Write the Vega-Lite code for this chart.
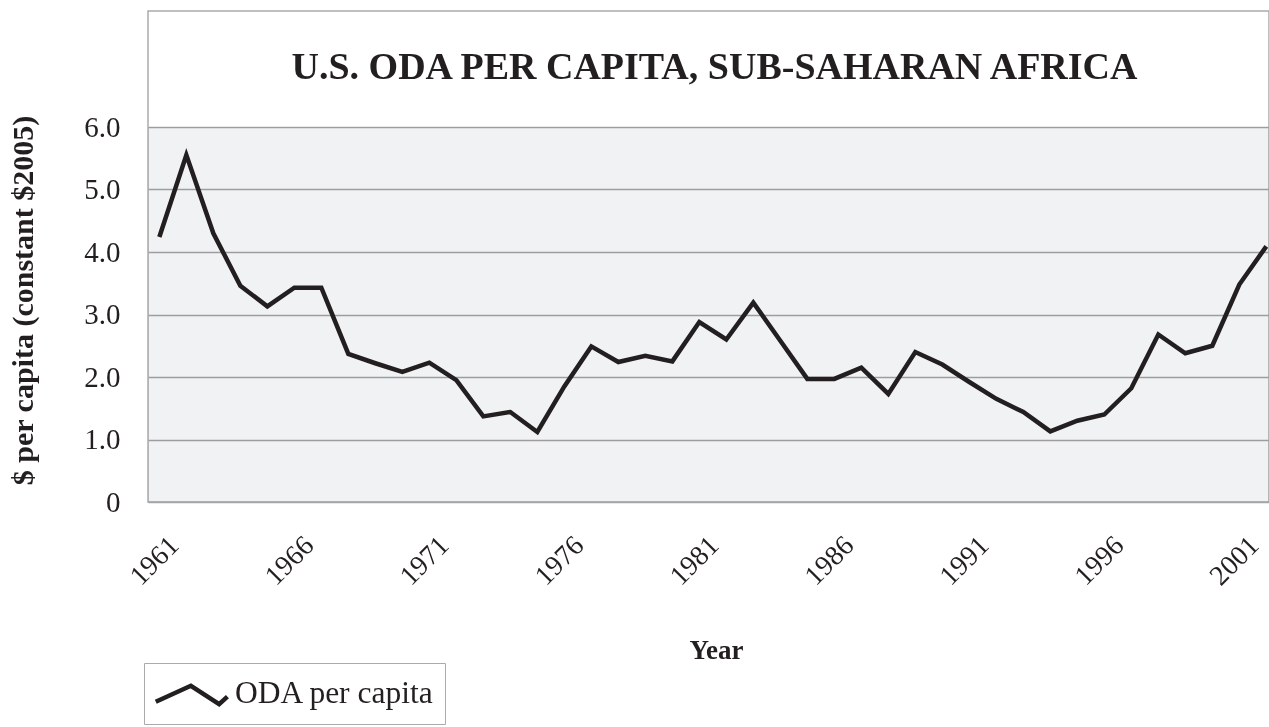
{
  "$schema": "https://vega.github.io/schema/vega-lite/v6.json",
  "width": 1121,
  "height": 491,
  "autosize": {"type": "none"},
  "padding": {"left": 148, "top": 11, "right": 0, "bottom": 225},
  "background": "white",
  "config": {
    "view": {"stroke": "#ababab", "strokeWidth": 1.5},
    "font": "Liberation Serif",
    "axisY": {
      "grid": true,
      "gridColor": "#a6a6a6",
      "gridWidth": 1.3,
      "domain": false,
      "ticks": false,
      "labelPadding": 28,
      "labelFont": "Liberation Serif",
      "labelFontSize": 29,
      "labelColor": "#231f20",
      "titleFont": "Liberation Serif",
      "titleFontSize": 30,
      "titleFontWeight": "bold",
      "titleColor": "#231f20",
      "titleAngle": -90,
      "titleAlign": "center",
      "titleBaseline": "middle",
      "titleX": -125,
      "titleY": 289
    }
  },
  "title": {
    "text": "U.S. ODA PER CAPITA, SUB-SAHARAN AFRICA",
    "font": "Liberation Serif",
    "fontSize": 38,
    "fontWeight": "bold",
    "color": "#231f20",
    "anchor": "middle",
    "frame": "group",
    "offset": -76,
    "dx": 6
  },
  "data": {
    "values": [
      {"year": 1961, "value": 4.24},
      {"year": 1962, "value": 5.55},
      {"year": 1963, "value": 4.30},
      {"year": 1964, "value": 3.46},
      {"year": 1965, "value": 3.13},
      {"year": 1966, "value": 3.43},
      {"year": 1967, "value": 3.43},
      {"year": 1968, "value": 2.37},
      {"year": 1969, "value": 2.22},
      {"year": 1970, "value": 2.08},
      {"year": 1971, "value": 2.23},
      {"year": 1972, "value": 1.95},
      {"year": 1973, "value": 1.37},
      {"year": 1974, "value": 1.44},
      {"year": 1975, "value": 1.12},
      {"year": 1976, "value": 1.85},
      {"year": 1977, "value": 2.49},
      {"year": 1978, "value": 2.24},
      {"year": 1979, "value": 2.34},
      {"year": 1980, "value": 2.25},
      {"year": 1981, "value": 2.88},
      {"year": 1982, "value": 2.60},
      {"year": 1983, "value": 3.19},
      {"year": 1984, "value": 2.58},
      {"year": 1985, "value": 1.97},
      {"year": 1986, "value": 1.97},
      {"year": 1987, "value": 2.15},
      {"year": 1988, "value": 1.73},
      {"year": 1989, "value": 2.40},
      {"year": 1990, "value": 2.20},
      {"year": 1991, "value": 1.92},
      {"year": 1992, "value": 1.65},
      {"year": 1993, "value": 1.44},
      {"year": 1994, "value": 1.13},
      {"year": 1995, "value": 1.30},
      {"year": 1996, "value": 1.40},
      {"year": 1997, "value": 1.82},
      {"year": 1998, "value": 2.68},
      {"year": 1999, "value": 2.38},
      {"year": 2000, "value": 2.50},
      {"year": 2001, "value": 3.48},
      {"year": 2002, "value": 4.09}
    ]
  },
  "layer": [
    {
      "data": {"values": [{"band": "plot background"}]},
      "mark": {"type": "rect", "fill": "#f1f2f4", "blend": "multiply"},
      "encoding": {
        "y": {
          "datum": 0,
          "type": "quantitative",
          "axis": {
            "title": "$ per capita (constant $2005)",
            "values": [0, 1, 2, 3, 4, 5, 6],
            "labelExpr": "datum.value == 0 ? '0' : format(datum.value, '.1f')"
          }
        },
        "y2": {"datum": 6}
      }
    },
    {
      "mark": {"type": "line", "strokeWidth": 4.5, "strokeJoin": "miter"},
      "encoding": {
        "x": {
          "field": "year",
          "type": "quantitative",
          "scale": {"domain": [1960.58, 2002.1], "nice": false, "zero": false},
          "axis": {
            "title": "Year",
            "values": [1961, 1966, 1971, 1976, 1981, 1986, 1991, 1996, 2001],
            "format": "d",
            "grid": false,
            "domain": false,
            "ticks": false,
            "labelAngle": -45,
            "labelAlign": "right",
            "labelBaseline": "middle",
            "labelPadding": 39,
            "labelOffset": 15,
            "labelFont": "Liberation Serif",
            "labelFontSize": 28,
            "labelColor": "#231f20",
            "titleFont": "Liberation Serif",
            "titleFontSize": 27,
            "titleFontWeight": "bold",
            "titleColor": "#231f20",
            "titleX": 568,
            "titleY": 148,
            "titleAlign": "center",
            "titleBaseline": "middle"
          }
        },
        "y": {
          "field": "value",
          "type": "quantitative",
          "scale": {"domain": [0, 7.856], "nice": false},
          "axis": {
            "title": "$ per capita (constant $2005)",
            "values": [0, 1, 2, 3, 4, 5, 6],
            "labelExpr": "datum.value == 0 ? '0' : format(datum.value, '.1f')"
          }
        },
        "color": {
          "datum": "ODA per capita",
          "scale": {"range": ["#231f20"]},
          "legend": {
            "orient": "none",
            "legendX": -4,
            "legendY": 652,
            "title": null,
            "strokeColor": "#ababab",
            "padding": 10,
            "symbolType": "M-1.04,0.46L0.91,-0.43L2.48,0.59L2.94,0.17",
            "symbolSize": 1296,
            "symbolStrokeWidth": 4.5,
            "symbolFillColor": "transparent",
            "labelFont": "Liberation Serif",
            "labelFontSize": 31.5,
            "labelColor": "#231f20",
            "labelOffset": 40,
            "labelLimit": 0
          }
        }
      }
    }
  ]
}
